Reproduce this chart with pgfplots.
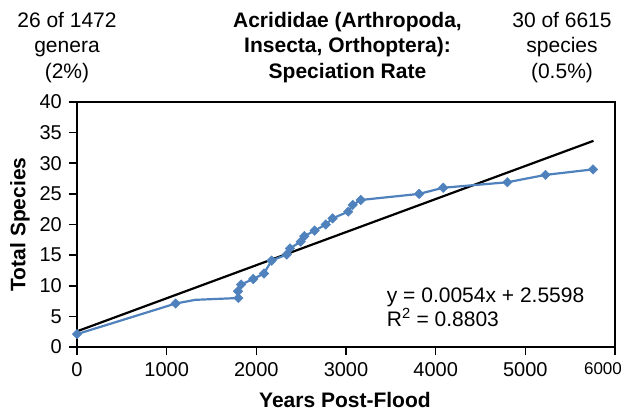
\documentclass[border=0pt]{standalone}
\usepackage{fontspec}
\setmainfont{Liberation Sans}
\usepackage{pgfplots}
\pgfplotsset{compat=1.18}
\definecolor{xlblue}{RGB}{79,129,189}
\begin{document}
\fontsize{21}{25}\selectfont
\begin{tikzpicture}
\begin{axis}[
  at={(0pt,0pt)}, anchor=south west,
  width=538pt, height=245pt, scale only axis,
  xmin=0, xmax=6000, ymin=0, ymax=40,
  xtick={0,1000,2000,3000,4000,5000,6000},
  xticklabels={0,1000,2000,3000,4000,5000,{\hspace*{-24pt}\fontsize{17}{17}\selectfont 6000}},
  ytick={0,5,10,15,20,25,30,35,40},
  /pgf/number format/assume math mode=true,
  /pgf/number format/1000 sep={},
  tick align=outside, major tick length=8pt,
  tick style={black, line width=1.6pt},
  axis line style={black, line width=2pt},
  xtick pos=bottom, ytick pos=left,
  tick label style={font=\fontsize{20}{21}\selectfont},
  xlabel={\bfseries Years Post-Flood},
  ylabel={\bfseries Total Species},
  every axis x label/.style={at={(axis description cs:0.498,-0.2163)}, anchor=center},
  every axis y label/.style={at={(axis description cs:-0.106,0.5)}, anchor=center, rotate=90},
  clip=false,
]
\addplot[black, line width=2.2pt] coordinates {(0,2.5598) (5760,33.66)};
\addplot[xlblue, line width=2.2pt, mark=square*, mark size=3.4pt,
  mark options={fill=xlblue, draw=xlblue, line width=0.4pt, rotate=45},
  mark indices={1,2,4,5,6,7,8,9,10,11,12,13,14,15,16,17,18,19,20,21,22,23,24}]
 coordinates {
 (0,2.1) (1100,7.1) (1320,7.7) (1800,8.0) (1795,9.1) (1830,10.2) (1965,11.1)
 (2085,12.0) (2170,14.1) (2340,15.1) (2375,16.1) (2495,17.2) (2535,18.1)
 (2650,19.0) (2775,20.0) (2850,21.0) (3025,22.1) (3075,23.2) (3165,24.0)
 (3815,25.0) (4085,26.0) (4800,26.9) (5225,28.1) (5755,29.0)
 };
\node[anchor=west, align=left, inner sep=0pt, font=\fontsize{21}{24.3}\selectfont] at (rel axis cs:0.5757,0.163)
 {y = 0.0054x + 2.5598\\R\textsuperscript{2} = 0.8803};
\end{axis}
\node[align=center, font=\fontsize{21}{25.5}\selectfont] at (-10pt,299.5pt) {26 of 1472\\genera\\(2\%)};
\node[align=center, font=\bfseries\fontsize{21}{25.5}\selectfont] at (270.5pt,299.5pt) {Acrididae (Arthropoda,\\Insecta, Orthoptera):\\Speciation Rate};
\node[align=center, font=\fontsize{21}{25.5}\selectfont] at (485pt,299.5pt) {30 of 6615\\species\\(0.5\%)};
\pgfresetboundingbox
\path[use as bounding box] (-77pt,-66pt) rectangle (544pt,347pt);
\end{tikzpicture}
\end{document}
